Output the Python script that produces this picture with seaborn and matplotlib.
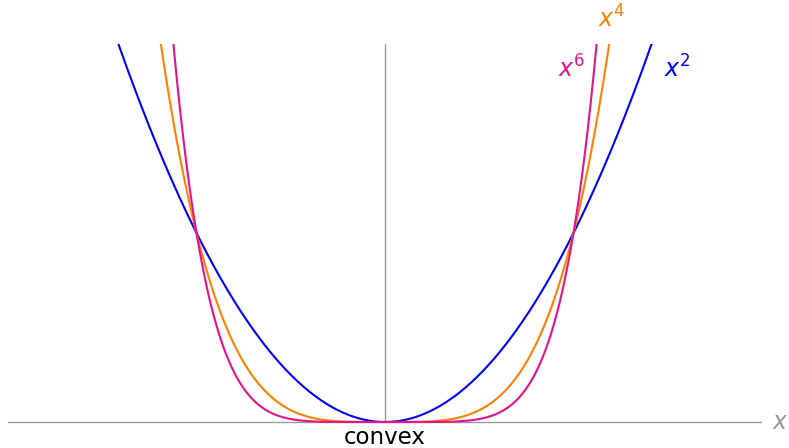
import matplotlib
matplotlib.use("Agg")
import matplotlib.pyplot as plt
import numpy as np
import pandas as pd
import seaborn as sns

# exponents of the plotted power functions and their colours
powers = [2, 4, 6]
colors = ["#0000ff", "#ff8000", "#e5128c"]
labels = ["$x^2$", "$x^4$", "$x^6$"]
label_pos = [(1.55, 1.87), (1.20, 2.13), (0.99, 1.87)]

xs = np.linspace(-2, 2, 801)
df = pd.concat(
    [pd.DataFrame({"x": xs, "y": xs ** p, "f": f"x^{p}"}) for p in powers],
    ignore_index=True,
)

sns.set_style("white")
plt.rcParams["font.family"] = ["DejaVu Sans"]
plt.rcParams["mathtext.fontset"] = "dejavusans"

fig = plt.figure(figsize=(7.89, 4.48), dpi=100)
# y from -0.05 so the curves at y=0 are not cut in half
ax = fig.add_axes([8 / 789, 16.55 / 448, 754 / 789, 387.45 / 448])

ax.axhline(0, color="#999999", lw=1.0, zorder=1)
ax.plot([0, 0], [0, 2], color="#999999", lw=1.0, zorder=1)

sns.lineplot(data=df, x="x", y="y", hue="f", palette=colors, lw=1.5,
             legend=False, ax=ax, zorder=3)

ax.set_xlim(-2, 2)
ax.set_ylim(-0.05, 2)
for s in ax.spines.values():
    s.set_visible(False)
ax.set_xticks([])
ax.set_yticks([])
ax.set_xlabel("")
ax.set_ylabel("")

for lab, (px, py), c in zip(labels, label_pos, colors):
    ax.text(px, py, lab, color=c, fontsize=17, ha="center", va="center",
            clip_on=False)

ax.text(2.1, 0, "$x$", color="#999999", fontsize=17, ha="center",
        va="center", clip_on=False)
ax.text(0, -0.08, "convex", color="black", fontsize=16.5, ha="center",
        va="center", clip_on=False)

fig.savefig("out.png", dpi=100)
